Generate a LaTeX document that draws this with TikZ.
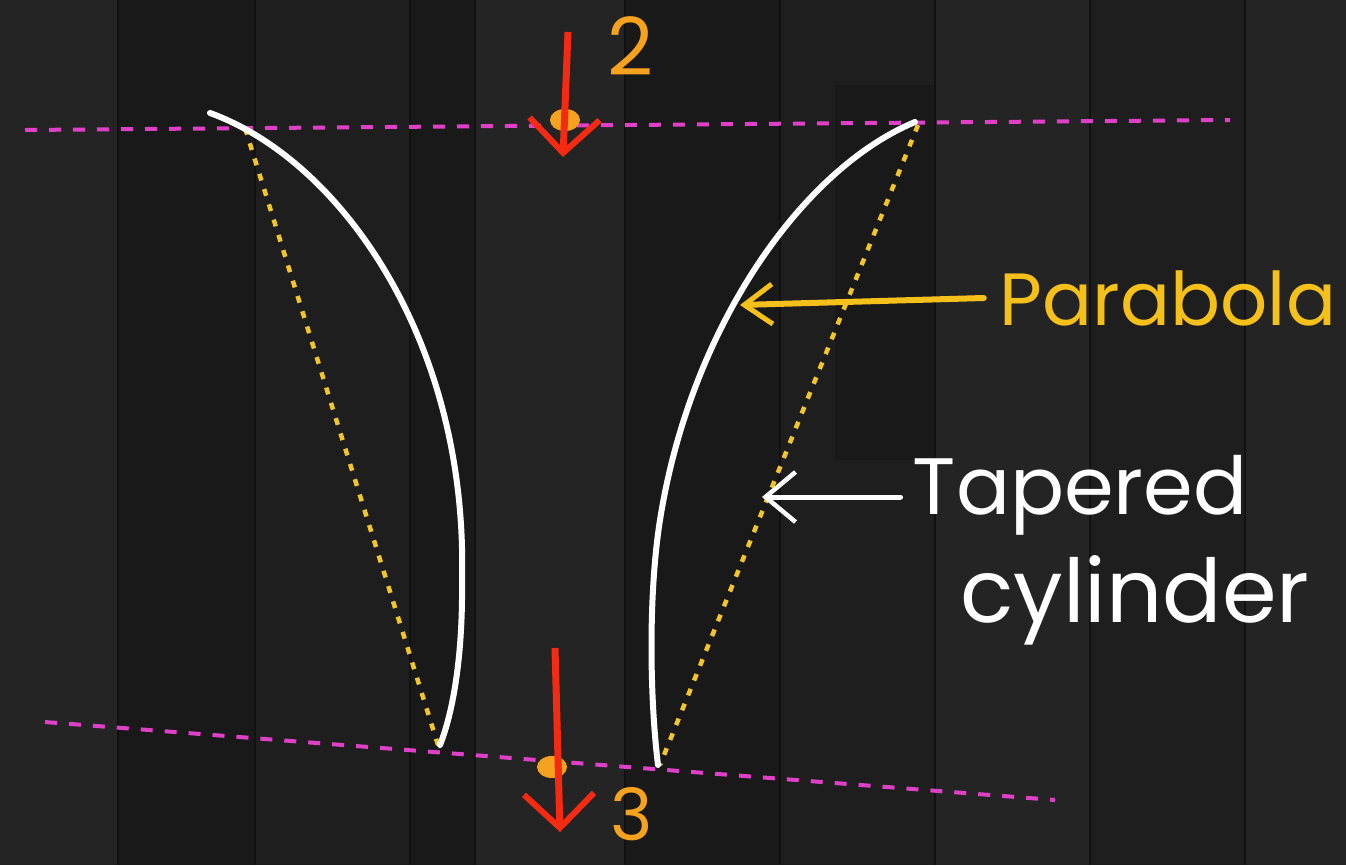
\documentclass[tikz,border=0pt]{standalone}
\usepackage{fontspec}
\setmainfont{Poppins}
\usetikzlibrary{arrows.meta,shapes.geometric}
\definecolor{bgA}{HTML}{1E1E1E}
\definecolor{bgB}{HTML}{242424}
\definecolor{bgC}{HTML}{191919}
\definecolor{seam}{HTML}{111111}
\definecolor{magline}{HTML}{E040C8}
\definecolor{dotyel}{HTML}{F2C52A}
\definecolor{paryel}{HTML}{F5C01A}
\definecolor{redarr}{HTML}{F52A12}
\definecolor{orng}{HTML}{F7A21E}
\tikzset{
  magdash/.style={draw=magline, line width=4pt, dash pattern=on 12pt off 12pt},
  yeldots/.style={draw=dotyel, line width=4.5pt, dash pattern=on 7pt off 9pt},
  whitecurve/.style={draw=white, line width=6pt, line cap=round},
  redarrow/.style={draw=redarr, line width=7pt, -{Straight Barb[length=34pt,width=70pt,line width=6pt]}},
  yelarrow/.style={draw=paryel, line width=6pt, line cap=round, -{Straight Barb[length=28pt,width=40pt,line width=5pt]}},
  whitearrow/.style={draw=white, line width=5pt, line cap=round, -{Straight Barb[length=30pt,width=50pt,line width=4.5pt]}},
  orangedot/.style={ellipse, fill=orng, minimum width=30pt, minimum height=22pt, inner sep=0pt},
  numlabel/.style={text=orng, font=\fontsize{80}{88}\selectfont, inner sep=0pt},
  num3label/.style={text=orng, font=\fontsize{72}{78}\selectfont, inner sep=0pt, text depth=0pt},
  partext/.style={text=paryel, font=\fontsize{74}{84}\selectfont, inner sep=0pt},
  taptext/.style={text=white, font=\fontsize{80}{90}\selectfont, inner sep=0pt},
  cyltext/.style={text=white, font=\fontsize{88}{96}\selectfont, inner sep=0pt},
}
\begin{document}
\begin{tikzpicture}[x=1pt,y=-1pt]
\useasboundingbox (0,0) rectangle (1346,865);
% background planks
\fill[bgA] (0,0) rectangle (1346,865);
\fill[bgB] (0,0) rectangle (118,865);
\fill[bgC] (118,0) rectangle (255,865);
\fill[bgA] (255,0) rectangle (410,865);
\fill[bgC] (410,0) rectangle (475,865);
\fill[bgB] (475,0) rectangle (625,865);
\fill[bgC] (625,0) rectangle (780,865);
\fill[bgA] (780,0) rectangle (935,865);
\fill[bgC] (835,85) rectangle (935,460);
\fill[bgB] (935,0) rectangle (1090,865);
\fill[bgA] (1090,0) rectangle (1245,865);
\fill[bgB] (1245,0) rectangle (1346,865);
\foreach \xx in {118,255,410,475,625,780,935,1090,1245}
  \draw[seam, line width=2pt] (\xx,0) -- (\xx,865);

% reference lines
\coordinate (tl) at (25,130);
\coordinate (tr) at (1230,120);
\coordinate (bl) at (45,722);
\coordinate (br) at (1055,800);
\draw[magdash] (tl) -- (tr);
\draw[magdash] (bl) -- (br);

% left profile
\coordinate (ls) at (210,113);
\coordinate (lm) at (462,580);
\coordinate (le) at (440,745);
\coordinate (lys) at (245,128);
\coordinate (lye) at (438,745);
\draw[yeldots] (lys) -- (lye);
\draw[whitecurve] (ls) .. controls (340,160) and (468,340) .. (lm)
  .. controls (463,660) and (452,715) .. (le);

% right profile
\coordinate (rs) at (915,122);
\coordinate (rm) at (660,520);
\coordinate (re) at (658,765);
\coordinate (rys) at (918,125);
\coordinate (rye) at (660,765);
\draw[yeldots] (rys) -- (rye);
\draw[whitecurve] (rs) .. controls (800,170) and (690,330) .. (rm)
  .. controls (648,596) and (650,700) .. (re);

% station 2
\node[orangedot] (d2) at (565,120) {};
\coordinate (r2s) at (568,32);
\coordinate (r2e) at (563,157);
\draw[redarrow] (r2s) -- (r2e);
\node[numlabel] (n2) at (630,46) {2};

% station 3
\node[orangedot] (d3) at (552,767) {};
\coordinate (r3s) at (555,648);
\coordinate (r3e) at (560,832);
\draw[redarrow] (r3s) -- (r3e);
\node[num3label] (n3) at (632,814) {3};

% labels
\node[partext] (par) at (1168,298) {Parabola};
\coordinate (parTip) at (740,305);
\draw[yelarrow] (par.west) ++(-16,0) -- (parTip);

\node[taptext] (tap) at (1080,495) {Tapered};
\node[cyltext] (cyl) at (1135,600) {cylinder};
\coordinate (cylTip) at (762,497);
\draw[whitearrow] (tap.west) ++(-12,2) -- (cylTip);
\end{tikzpicture}
\end{document}
